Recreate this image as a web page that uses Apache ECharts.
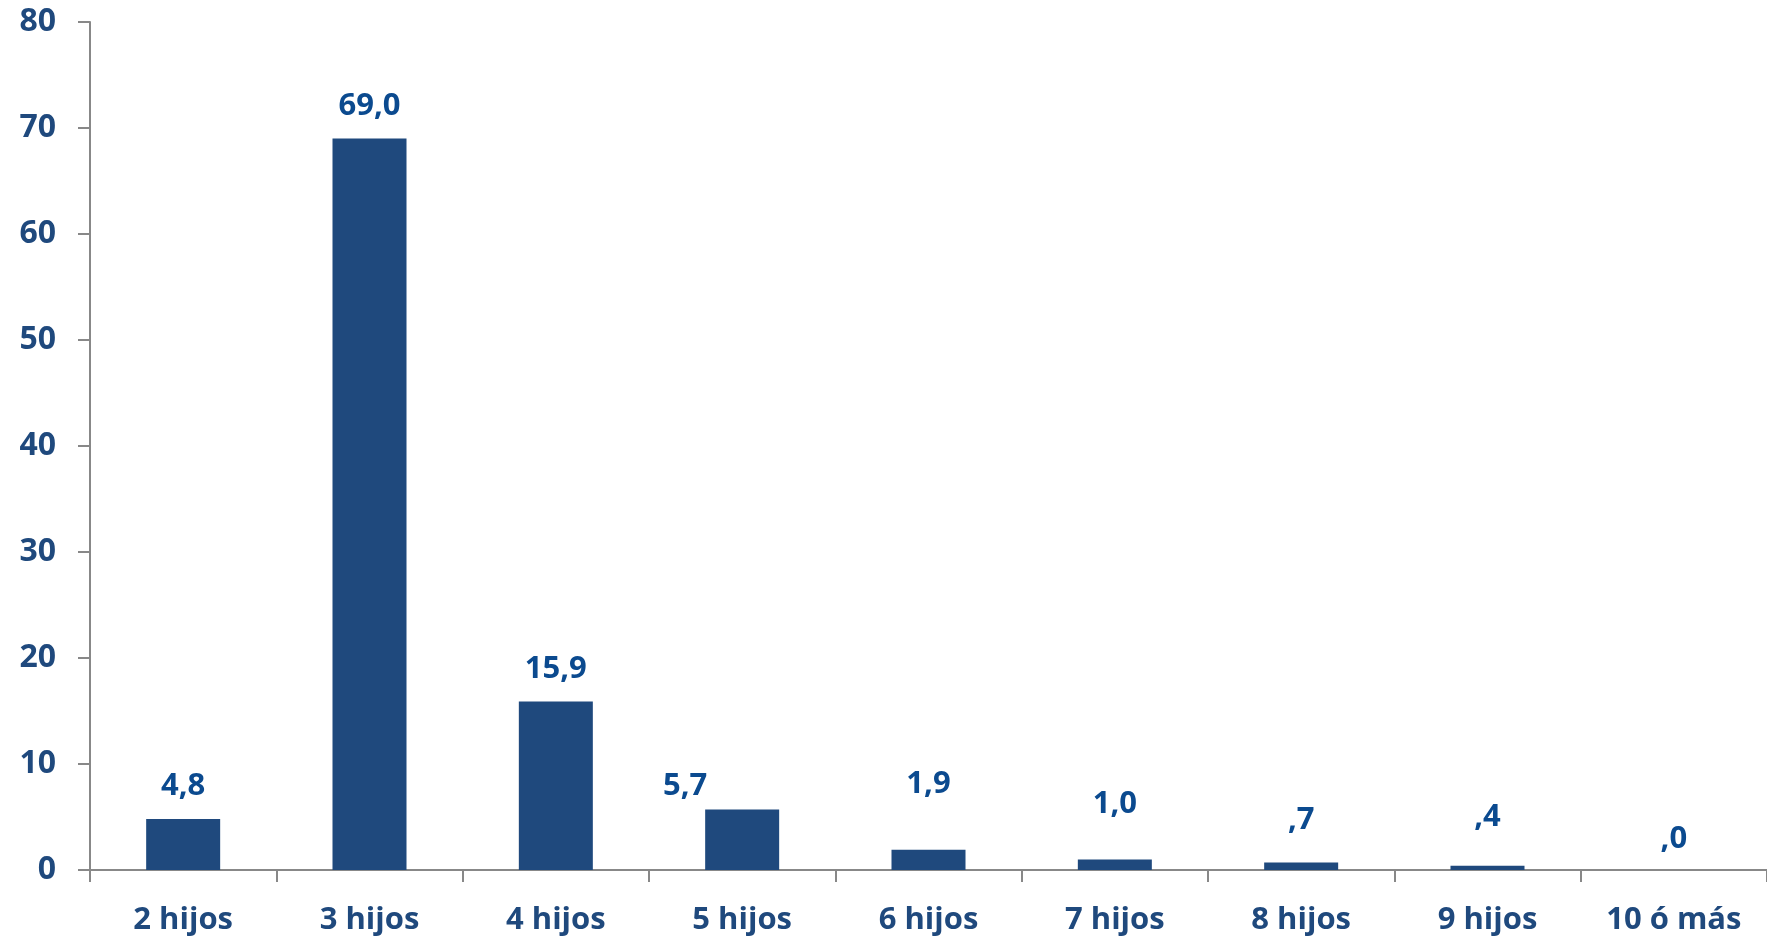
<!DOCTYPE html>
<html><head><meta charset="utf-8">
<script src="https://cdn.jsdelivr.net/npm/echarts@6/dist/echarts.min.js"></script>
<style>html,body{margin:0;padding:0;background:#fff}#c{width:1767px;height:939px}</style>
</head><body><div id="c"></div>
<script>
const categories = ['2 hijos','3 hijos','4 hijos','5 hijos','6 hijos','7 hijos','8 hijos','9 hijos','10 ó más'];
const values = [4.8, 69.0, 15.9, 5.7, 1.9, 1.0, 0.7, 0.4, 0.0];
const yTicks = [0, 10, 20, 30, 40, 50, 60, 70, 80];

// label placement tweaks (style only)
const labelShift = [[0,0],[0,0],[0,0],[-57,9],[0,-33],[0,-23],[0,-10],[0,-16],[0,2]];

const fmt = v => { let s = v.toFixed(1).replace('.', ','); if (s.startsWith('0,')) s = s.slice(1); return s; };
const font = '"Open Sans", Lato, sans-serif';
const chart = echarts.init(document.getElementById('c'));
chart.setOption({
  animation: false,
  grid: { left: 90, right: 0, top: 22, bottom: 69, containLabel: false },
  xAxis: {
    type: 'category', data: categories,
    axisLine: { lineStyle: { color: '#888', width: 2 } },
    axisTick: { show: true, length: 12, lineStyle: { color: '#888', width: 2 }, alignWithLabel: false },
    axisLabel: { color: '#1F497D', fontFamily: font, fontWeight: 'bold', fontSize: 31, margin: 35 }
  },
  yAxis: {
    type: 'value', min: yTicks[0], max: yTicks[yTicks.length-1], interval: 10,
    splitLine: { show: false },
    axisLine: { show: true, lineStyle: { color: '#888', width: 2 } },
    axisTick: { show: true, length: 12, lineStyle: { color: '#888', width: 2 } },
    axisLabel: { color: '#1F497D', fontFamily: font, fontWeight: 'bold', fontSize: 32, margin: 34 }
  },
  series: [{
    type: 'bar', barWidth: 74,
    itemStyle: { color: '#1F497D' },
    data: values.map((v, i) => ({ value: v, label: { offset: labelShift[i] } })),
    label: {
      show: true, position: 'top', distance: 17,
      color: '#0B4A8F', fontFamily: font, fontWeight: 'bold', fontSize: 31,
      formatter: p => fmt(p.value)
    }
  }]
});
</script></body></html>
